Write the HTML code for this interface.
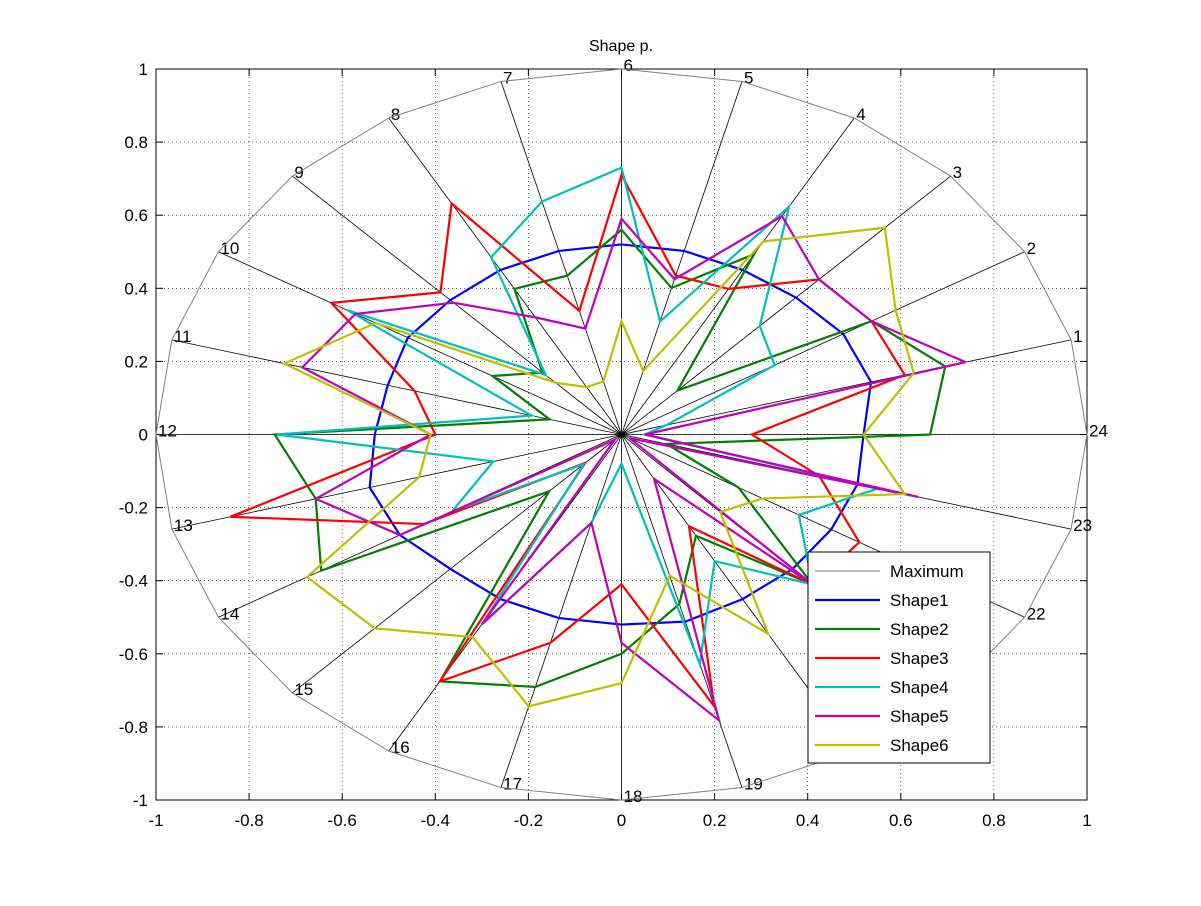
<!DOCTYPE html>
<html><head><meta charset="utf-8"><style>
html,body{margin:0;padding:0;background:#fff;}
svg text{font-family:"Liberation Sans",Arial,sans-serif;}
</style></head><body>
<svg id="s" width="1201" height="901" xmlns="http://www.w3.org/2000/svg">
<rect width="1201" height="901" fill="#fff"/>
<g id="grid"></g>
<rect x="156" y="69" width="931" height="731" fill="none" stroke="#000" stroke-width="1"/>
<g id="ticks" font-size="17"></g>
<text x="621" y="51" font-size="16" text-anchor="middle">Shape p.</text>
<g id="spokes"></g>
<g id="series"></g>
<g id="legend">
<rect x="808" y="552" width="182" height="211" fill="#fff" stroke="#000"/>
</g>
</svg>
<script>
const NS="http://www.w3.org/2000/svg";
const cx=621.5,cy=434.5,sx=465.5,sy=365.5;
function el(t,a,p){const e=document.createElementNS(NS,t);for(const k in a)e.setAttribute(k,a[k]);p.appendChild(e);return e;}
const grid=document.getElementById('grid'),ticks=document.getElementById('ticks');
for(let i=-5;i<=5;i++){
 const v=i/5,x=cx+v*sx,y=cy-v*sy;
 if(i>-5&&i<5){
  el('line',{x1:x,y1:69,x2:x,y2:800,stroke:'#000','stroke-width':0.6,'stroke-dasharray':'1,3'},grid);
  el('line',{x1:156,y1:y,x2:1087,y2:y,stroke:'#000','stroke-width':0.6,'stroke-dasharray':'1,3'},grid);
 }
 const lab=(Math.round(v*10)/10).toString();
 el('text',{x:x,y:826,'text-anchor':'middle'},ticks).textContent=lab;
 el('text',{x:148,y:y+6,'text-anchor':'end'},ticks).textContent=lab;
 el('line',{x1:x,y1:800,x2:x,y2:793,stroke:'#000'},ticks);
 el('line',{x1:x,y1:69,x2:x,y2:76,stroke:'#000'},ticks);
 el('line',{x1:156,y1:y,x2:163,y2:y,stroke:'#000'},ticks);
 el('line',{x1:1087,y1:y,x2:1080,y2:y,stroke:'#000'},ticks);
}
function P(r,k){const a=k*15*Math.PI/180;return [cx+r*Math.cos(a)*sx,cy-r*Math.sin(a)*sy];}
const sp=document.getElementById('spokes');
for(let k=1;k<=24;k++){const p=P(1,k);
 el('line',{x1:cx,y1:cy,x2:p[0],y2:p[1],stroke:'#000','stroke-width':0.8},sp);
 const t=el('text',{x:p[0]+2,y:p[1]+2,'font-size':17},sp);t.textContent=k;
}
const series=document.getElementById('series');
function poly(rs,col,w){let pts=[];for(let k=1;k<=24;k++){pts.push(P(rs[k-1],k).join(','));}pts.push(P(rs[0],1).join(','));
 el('polyline',{points:pts.join(' '),fill:'none',stroke:col,'stroke-width':w,'stroke-linejoin':'miter'},series);}
const D=[
['Maximum','#808080',1,Array(24).fill(1)],
['Shape1','#0000ff',2.2,[.555,.55,.53,.52,.52,.52,.52,.52,.52,.53,.52,.53,.56,.55,.52,.52,.52,.52,.53,.52,.52,.52,.525,.52]],
['Shape2','#007f00',2.2,[.72,.62,.17,.57,.415,.56,.45,.46,.24,.32,.16,.745,.68,.745,.22,.78,.715,.6,.48,.32,.58,.29,.1,.663]],
['Shape3','#ff0000',2.2,[.63,.62,.6,.46,.45,.71,.35,.73,.55,.72,.46,.4,.87,.49,.11,.78,.59,.41,.77,.29,.58,.59,.44,.28]],
['Shape4','#00bfbf',2.2,[.1,.38,.42,.72,.32,.73,.66,.56,.23,.68,.2,.74,.285,.42,.115,.6,.25,.08,.65,.4,.58,.44,.57,.05]],
['Shape5','#bf00bf',2.2,[.765,.62,.6,.69,.44,.59,.3,.37,.51,.66,.71,.41,.68,.55,.02,.6,.25,.57,.81,.14,.58,.02,.66,.05]],
['Shape6','#bfbf00',2.2,[.65,.68,.8,.61,.18,.31,.15,.15,.2,.61,.75,.41,.45,.78,.75,.64,.77,.68,.4,.63,.3,.35,.63,.52]]
];
D.forEach(d=>poly(d[3],d[1],d[2]));
const lg=document.getElementById('legend');
D.forEach((d,i)=>{const y=571+i*29;
 el('line',{x1:815,y1:y,x2:880,y2:y,stroke:d[1],'stroke-width':d[2]},lg);
 el('text',{x:890,y:y+6,'font-size':17},lg).textContent=d[0];
});
</script>
</body></html>
